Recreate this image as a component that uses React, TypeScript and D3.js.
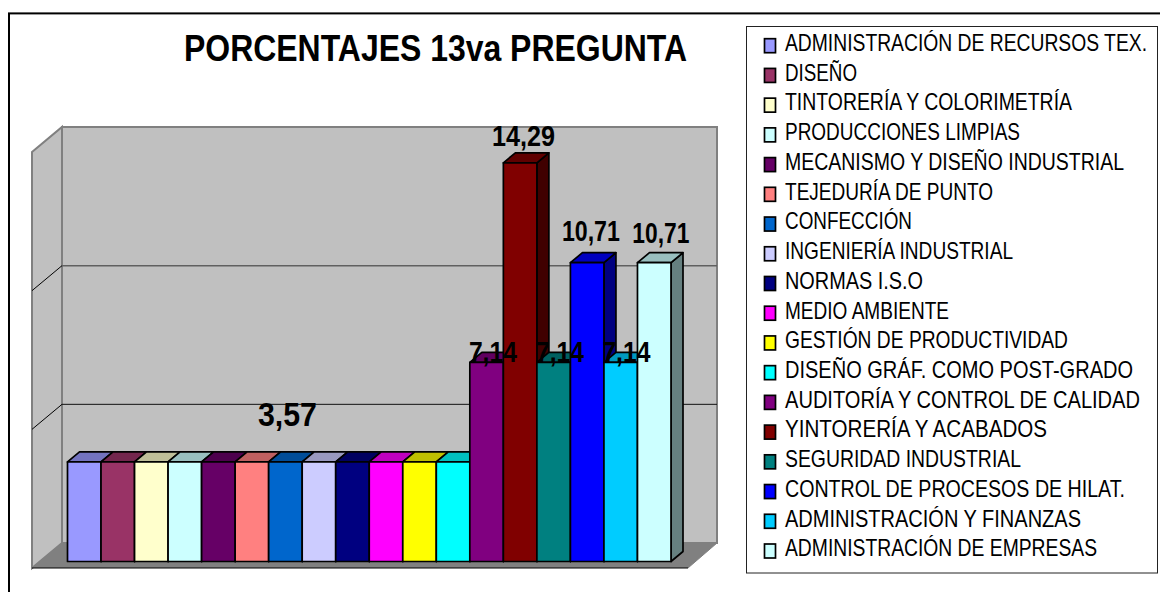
import React from "react";
import * as d3 from "d3";

const categories = [
  "ADMINISTRACIÓN DE RECURSOS TEX.", "DISEÑO", "TINTORERÍA Y COLORIMETRÍA", "PRODUCCIONES LIMPIAS",
  "MECANISMO Y DISEÑO INDUSTRIAL", "TEJEDURÍA DE PUNTO", "CONFECCIÓN", "INGENIERÍA INDUSTRIAL",
  "NORMAS I.S.O", "MEDIO AMBIENTE", "GESTIÓN DE PRODUCTIVIDAD", "DISEÑO GRÁF. COMO POST-GRADO",
  "AUDITORÍA Y CONTROL DE CALIDAD", "YINTORERÍA Y ACABADOS", "SEGURIDAD INDUSTRIAL",
  "CONTROL DE PROCESOS DE HILAT.", "ADMINISTRACIÓN Y FINANZAS", "ADMINISTRACIÓN DE EMPRESAS",
];
const values = [3.57, 3.57, 3.57, 3.57, 3.57, 3.57, 3.57, 3.57, 3.57, 3.57, 3.57, 3.57, 7.14, 14.29, 7.14, 10.71, 7.14, 10.71];
const colors = [
  "#9999ff", "#993366", "#ffffcc", "#ccffff", "#660066", "#ff8080", "#0066cc", "#ccccff", "#000080",
  "#ff00ff", "#ffff00", "#00ffff", "#800080", "#800000", "#008080", "#0000ff", "#00ccff", "#ccffff",
];
const gridTicks = [5, 10];
const labelTexts = ["3,57", "7,14", "14,29", "7,14", "10,71", "7,14", "10,71"];
const labelBars = [5, 12, 13, 14, 15, 16, 17];
// layout of the labels and legend texts (offsets, sizes, fitted widths)
const labelDx = [35.5, 6.3, 3.3, 6.3, 3.7, 5.7, 6.6];
const labelDy = [-36, -0.6, -17, -0.6, -21.7, -0.6, -19.7];
const labelSize = [34, 29, 29, 29, 29, 29, 29];
const labelWidth = [59, 48, 63, 48, 58, 48, 57];
const legendWidths = [362, 72, 287, 235, 339, 208, 127, 228, 138, 164, 283, 348, 355, 262, 236, 340, 296, 312];

const DX = 12, DY = 10;
const x = d3.scaleBand<number>().domain(d3.range(categories.length)).range([67.5, 671]).padding(0);
const y = d3.scaleLinear().domain([0, 15]).range([561.5, 143]);
const wallY = d3.scaleLinear().domain([0, 15]).range([543, 127]);
const sideY = d3.scaleLinear().domain([0, 15]).range([568, 152]);
const legendBase = d3.scaleLinear().domain([0, 17]).range([51.7, 557]);
const pts = (p: number[][]) => p.map((d) => d.join(",")).join(" ");
const shade = (c: string, k: number) => {
  const r = d3.rgb(c);
  return d3.rgb(r.r * k, r.g * k, r.b * k).formatHex();
};

export default function App() {
  const sans = "'Liberation Sans', Arial, sans-serif";
  return (
    <svg width={1160} height={592} style={{ position: "absolute", left: 0, top: 0, background: "#fff" }}>
      <rect x={9} y={13.4} width={1170} height={600} fill="#fff" stroke="#000" strokeWidth={2} />
      <text x={435.5} y={61} textAnchor="middle" fontFamily={sans} fontWeight={700} fontSize={36} textLength={503} lengthAdjust="spacingAndGlyphs">PORCENTAJES 13va PREGUNTA</text>

      <polygon points={pts([[62, 127], [717, 127], [717, 543], [62, 543]])} fill="#c0c0c0" stroke="#808080" strokeWidth={2} />
      <polygon points={pts([[32, 152], [62, 127], [62, 543], [32, 568]])} fill="#c0c0c0" stroke="#808080" strokeWidth={2} />
      <polygon points={pts([[32, 568], [62, 543], [717, 543], [688, 568]])} fill="#808080" />
      <line x1={32} y1={568} x2={688} y2={568} stroke="#000" strokeWidth={1} />
      <line x1={688} y1={568} x2={717} y2={543} stroke="#808080" strokeWidth={1} />
      {gridTicks.map((t) => (
        <g key={t}>
          <line x1={32} y1={sideY(t)} x2={62} y2={wallY(t)} stroke="#000" strokeWidth={1} />
          <line x1={62} y1={wallY(t)} x2={717} y2={wallY(t)} stroke={t === 10 ? "#606060" : "#111"} strokeWidth={t === 10 ? 1.5 : 1} />
        </g>
      ))}

      {values.map((v, i) => {
        const x0 = x(i)!, x1 = x0 + x.bandwidth(), top = y(v), base = y(0);
        return (
          <g key={i} stroke="#000" strokeWidth={1.7} strokeLinejoin="round">
            <polygon points={pts([[x1, top], [x1 + DX, top - DY], [x1 + DX, base - DY], [x1, base]])} fill={shade(colors[i], 0.5)} />
            <polygon points={pts([[x0, top], [x0 + DX, top - DY], [x1 + DX, top - DY], [x1, top]])} fill={shade(colors[i], 0.75)} />
            <rect x={x0} y={top} width={x.bandwidth()} height={base - top} fill={colors[i]} />
          </g>
        );
      })}

      {labelTexts.map((t, k) => {
        const b = labelBars[k];
        return (
          <text key={k} x={x(b)! + x.bandwidth() / 2 + labelDx[k]} y={y(values[b]) + labelDy[k]} textAnchor="middle"
            fontFamily={sans} fontWeight={700} fontSize={labelSize[k]} textLength={labelWidth[k]} lengthAdjust="spacingAndGlyphs">{t}</text>
        );
      })}

      <rect x={746.5} y={26.5} width={411} height={546.5} fill="#fff" stroke="#222" strokeWidth={1} />
      {categories.map((c, i) => (
        <g key={c}>
          <rect x={764.5} y={legendBase(i) - 13} width={11} height={14} fill={colors[i]} stroke="#000" strokeWidth={1.7} />
          <text transform={`translate(785,${legendBase(i) - 0.7}) scale(1,1.2)`} fontFamily={sans} fontSize={20} textLength={legendWidths[i]} lengthAdjust="spacingAndGlyphs">{c}</text>
        </g>
      ))}
    </svg>
  );
}
